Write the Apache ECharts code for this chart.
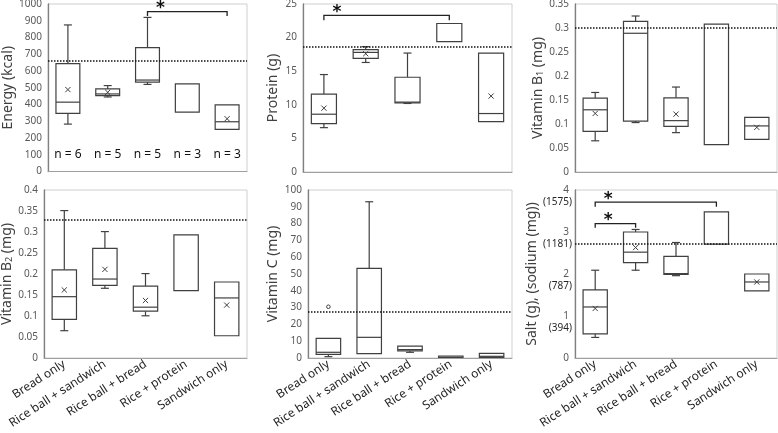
<!DOCTYPE html>
<html><head><meta charset="utf-8">
<script src="https://cdn.jsdelivr.net/npm/echarts@6/dist/echarts.min.js"></script>
<style>html,body{margin:0;padding:0;background:#fff}#c{width:778px;height:433px}</style>
</head><body><div id="c"></div>
<script>
const categories = ['Bread only','Rice ball + sandwich','Rice ball + bread','Rice + protein','Sandwich only'];

// box stats: [lower whisker, Q1, median, Q3, upper whisker]; null = not drawn
const energyBox = [[283,347,414,644,875],[445,453,463,493,513],[520,534,546,739,920],[null,354,null,523,null],[null,251,297,398,null]];
const energyMean = [489,473,null,null,315];
const energyRef = 663;
const energyN = ['n = 6','n = 5','n = 5','n = 3','n = 3'];
const energyBrackets = [[2,4,954,928]];

const proteinBox = [[6.6,7.2,8.6,11.6,14.5],[16.3,16.9,17.8,18.2,18.65],[10.2,10.3,10.4,14.1,17.7],[null,19.4,null,22.1,null],[null,7.5,8.7,17.7,null]];
const proteinMean = [9.5,17.6,null,null,11.3];
const proteinRef = 18.6;
const proteinBrackets = [[0,3,23.3,22.6]];

const b1Box = [[0.065,0.0846,0.1296,0.154,0.1657],[0.103,0.106,0.289,0.314,0.325],[0.082,0.095,0.107,0.1545,0.177],[null,0.057,null,0.308,null],[null,0.068,0.096,0.114,null]];
const b1Mean = [0.122,null,0.1206,null,0.093];
const b1Ref = 0.3;

const b2Box = [[0.065,0.092,0.146,0.21,0.351],[0.166,0.173,0.188,0.261,0.301],[0.1005,0.1115,0.121,0.171,0.201],[null,0.1606,null,0.293,null],[null,0.053,0.143,0.181,null]];
const b2Mean = [0.162,0.211,0.137,null,0.126];
const b2Ref = 0.33;

const vcBox = [[0.8,2.2,3.4,11.7,null],[null,2.6,12.3,53.4,93],[3.4,4.2,5.0,7.1,null],[null,0.4,null,1.2,null],[null,0.4,1.0,2.8,null]];
const vcMean = [null,null,null,null,null];
const vcOutliers = [[30.5],[],[],[],[]];
const vcRef = 27.3;

const saltBox = [[0.49,0.576,1.215,1.62,2.09],[2.09,2.27,2.52,3.0,3.06],[1.96,1.99,2.01,2.42,2.75],[null,2.71,null,3.48,null],[null,1.6,1.81,2.0,null]];
const saltMean = [1.18,2.63,null,null,1.81];
const saltRef = 2.71;
const saltBrackets = [[0,3,3.71,3.6],[0,1,3.2,3.1]];
const sodiumLabels = ['', '(394)', '(787)', '(1181)', '(1575)'];

const FONT = '"Noto Sans", "DejaVu Sans", sans-serif';
const STROKE = '#404040';

const grids = [
  {left:48, top:4, width:199, height:167.5},
  {left:303, top:4, width:209, height:168},
  {left:575, top:4, width:202, height:168},
  {left:44, top:190, width:203, height:168},
  {left:308, top:190, width:204, height:168},
  {left:575, top:190, width:202, height:168}
];

const yDefs = [
  {min:0, max:1000, interval:100, name:'Energy (kcal)', gap:31},
  {min:0, max:25, interval:5, name:'Protein (g)', gap:23},
  {min:0, max:0.35, interval:0.05, name:'Vitamin B{sub|1} (mg)', gap:28},
  {min:0, max:0.4, interval:0.05, name:'Vitamin B{sub|2} (mg)', gap:27},
  {min:0, max:100, interval:10, name:'Vitamin C (mg)', gap:28},
  {min:0, max:4, interval:1, name:'Salt (g), (sodium (mg))', gap:33, salt:true}
];

function boxSeries(k, stats, means, outliers, ref) {
  return {
    type:'custom', xAxisIndex:k, yAxisIndex:k, z:2,
    data: stats.map((s,i)=>[i, s[1], s[3]]),
    encode:{x:0, y:[1,2]},
    renderItem:(params, api)=>{
      const i = params.dataIndex, s = stats[i];
      const band = api.size([1,0])[0];
      const bw = band*0.6, cap = 8;
      const cx = api.coord([i,0])[0];
      const Y = v=>api.coord([i,v])[1];
      const ls = {stroke:STROKE, lineWidth:1.2};
      const line = (x1,y1,x2,y2)=>({type:'line', shape:{x1,y1,x2,y2}, style:ls});
      const ch = [];
      if (s[4]!=null){ ch.push(line(cx,Y(s[3]),cx,Y(s[4]))); ch.push(line(cx-cap/2,Y(s[4]),cx+cap/2,Y(s[4]))); }
      if (s[0]!=null){ ch.push(line(cx,Y(s[1]),cx,Y(s[0]))); ch.push(line(cx-cap/2,Y(s[0]),cx+cap/2,Y(s[0]))); }
      ch.push({type:'rect', shape:{x:cx-bw/2, y:Y(s[3]), width:bw, height:Y(s[1])-Y(s[3])}, style:{fill:'#fff', stroke:STROKE, lineWidth:1.2}});
      if (s[2]!=null) ch.push(line(cx-bw/2,Y(s[2]),cx+bw/2,Y(s[2])));
      if (means && means[i]!=null){
        const my = Y(means[i]), r = 2.6;
        ch.push({type:'line', shape:{x1:cx-r,y1:my-r,x2:cx+r,y2:my+r}, style:{stroke:STROKE,lineWidth:1}});
        ch.push({type:'line', shape:{x1:cx-r,y1:my+r,x2:cx+r,y2:my-r}, style:{stroke:STROKE,lineWidth:1}});
      }
      if (outliers && outliers[i]) outliers[i].forEach(o=>{
        ch.push({type:'circle', shape:{cx:cx, cy:Y(o), r:1.8}, style:{fill:'#fff', stroke:STROKE, lineWidth:1}});
      });
      return {type:'group', children:ch};
    },
    markLine:{silent:true, symbol:'none', z:5, label:{show:false},
      lineStyle:{type:[1.5,1.5], color:'#111', width:1.6},
      data:[{yAxis:ref}]}
  };
}

function bracketSeries(k, brackets) {
  return {
    type:'custom', xAxisIndex:k, yAxisIndex:k, z:6,
    data: brackets.map(b=>[b[0], b[1], b[2], b[3]]),
    encode:{x:[0,1], y:[2,3]},
    renderItem:(params, api)=>{
      const b = brackets[params.dataIndex];
      const x1 = api.coord([b[0], b[2]])[0], x2 = api.coord([b[1], b[2]])[0];
      const yb = api.coord([b[0], b[2]])[1], yd = api.coord([b[0], b[3]])[1];
      return {type:'group', children:[
        {type:'polyline', shape:{points:[[x1,yd],[x1,yb],[x2,yb],[x2,yd]]}, style:{stroke:'#222', lineWidth:1.3, fill:null}},
        {type:'text', x:x1+13, y:yb-3, style:{text:'*', font:'bold 17px "DejaVu Sans"', fill:'#111', align:'center', verticalAlign:'middle'}}
      ]};
    }
  };
}

function nSeries(k, labels, yVal) {
  return {
    type:'custom', xAxisIndex:k, yAxisIndex:k, z:6,
    data: labels.map((l,i)=>[i, yVal]),
    encode:{x:0, y:1},
    renderItem:(params, api)=>{
      const p = api.coord([params.dataIndex, yVal]);
      return {type:'text', x:p[0], y:p[1], style:{text:labels[params.dataIndex], font:'12px '+FONT, fill:'#111', align:'center', verticalAlign:'middle'}};
    }
  };
}

const xAxes = grids.map((g,k)=>({
  type:'category', gridIndex:k, data:categories, boundaryGap:true,
  axisLine:{show:true, lineStyle:{color:'#a0a0a0', width:1}},
  axisTick:{show:false}, splitLine:{show:false},
  axisLabel:{show:k>=3, interval:0, rotate:33, fontSize:12, color:'#1f1f1f', fontFamily:FONT, margin:5}
}));

const yAxes = yDefs.map((d,k)=>{
  const ax = {
    type:'value', gridIndex:k, min:d.min, max:d.max, interval:d.interval,
    name:d.name, nameLocation:'middle', nameGap:d.gap, nameRotate:90,
    nameTextStyle:{fontSize:14, color:'#404040', fontFamily:FONT, rich:{sub:{fontSize:9, color:'#404040', fontFamily:FONT, verticalAlign:'bottom', padding:[6,0,0,0]}}},
    axisLine:{show:true, lineStyle:{color:'#808080', width:1.3}},
    axisTick:{show:false}, splitLine:{show:false},
    axisLabel:{fontSize:10, color:'#595959', fontFamily:FONT, margin:6, formatter: v => String(v)}
  };
  if (d.salt) {
    ax.axisLabel.formatter = v => v===0 ? '0' : '{e| }\n{n|'+v+'}\n{s|'+sodiumLabels[v]+'}';
    ax.axisLabel.rich = {
      e:{fontSize:10, lineHeight:12},
      n:{fontSize:10, lineHeight:12, color:'#595959', align:'right'},
      s:{fontSize:10, lineHeight:12, color:'#262626', align:'right', padding:[0,-3,0,0]}
    };
  }
  return ax;
});

const option = {
  animation:false,
  textStyle:{fontFamily:FONT},
  grid: grids.map(g=>Object.assign({show:true, borderColor:'#cfcfcf', borderWidth:1, containLabel:false, outerBoundsMode:'none'}, g)),
  xAxis:xAxes, yAxis:yAxes,
  series:[
    boxSeries(0, energyBox, energyMean, null, energyRef),
    bracketSeries(0, energyBrackets),
    nSeries(0, energyN, 104),
    boxSeries(1, proteinBox, proteinMean, null, proteinRef),
    bracketSeries(1, proteinBrackets),
    boxSeries(2, b1Box, b1Mean, null, b1Ref),
    boxSeries(3, b2Box, b2Mean, null, b2Ref),
    boxSeries(4, vcBox, vcMean, vcOutliers, vcRef),
    boxSeries(5, saltBox, saltMean, null, saltRef),
    bracketSeries(5, saltBrackets)
  ]
};
const chart = echarts.init(document.getElementById('c'), null, {renderer:'canvas'});
chart.setOption(option);
</script></body></html>
